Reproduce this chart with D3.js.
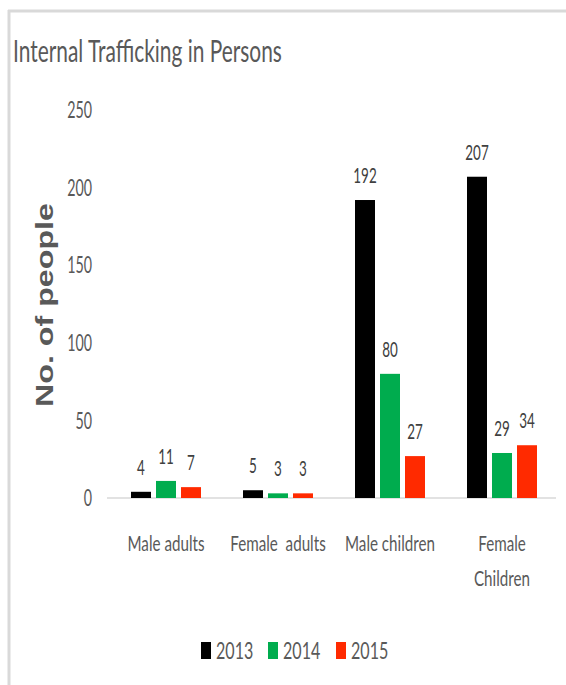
<!DOCTYPE html>
<html>
  <head>
    <script type="text/javascript" src="https://d3js.org/d3.v7.min.js"></script>
    <style>
      body { margin: 0; background: #fff; }
      text { font-family: Lato, "Open Sans", sans-serif; }
    </style>
  </head>
  <body>
  </body>
  <script>

  var categories = ["Male adults", "Female  adults", "Male children", "Female Children"];
  var years = ["2013", "2014", "2015"];
  var values2013 = [4, 5, 192, 207];
  var values2014 = [11, 3, 80, 29];
  var values2015 = [7, 3, 27, 34];
  var yTicks = [0, 50, 100, 150, 200, 250];
  var colors = ["#000000", "#00ac4e", "#ff2a00"];

  var seriesValues = [values2013, values2014, values2015];

  var width = 566, height = 685;
  var textColor = "#595959";

  // the source picture is squashed sideways, so squeeze glyphs horizontally
  // (scale around the anchor x so the box stays where the text is)
  function squeeze(sel, f) {
    sel.attr("transform", function() {
      var x = +d3.select(this).attr("x") || 0;
      return "translate(" + x + ",0) scale(" + f + ",1) translate(" + (-x) + ",0)";
    });
  }

  var svg = d3.select("body").append("svg")
              .attr("width", width)
              .attr("height", height);

  // frame (only top and left edges show)
  svg.append("line").attr("x1", 8).attr("x2", width).attr("y1", 11).attr("y2", 11)
     .attr("stroke", "#d9d9d9").attr("stroke-width", 3);
  svg.append("line").attr("x1", 9).attr("x2", 9).attr("y1", 10).attr("y2", height)
     .attr("stroke", "#d9d9d9").attr("stroke-width", 3);

  var title = svg.append("text")
     .attr("x", 13).attr("y", 62)
     .style("font-size", "31px")
     .style("fill", textColor)
     .text("Internal Trafficking in Persons");
  squeeze(title, 269 / title.node().getComputedTextLength());

  var x0 = d3.scaleBand().domain(categories).range([110, 558]);
  var x1 = d3.scaleBand().domain(years).range([0, 70]).paddingInner(0.2);
  var y = d3.scaleLinear().domain([0, 250]).range([498, 110]);

  // baseline
  svg.append("line")
     .attr("x1", 107).attr("x2", 556)
     .attr("y1", y(0)).attr("y2", y(0))
     .attr("stroke", "#d9d9d9").attr("stroke-width", 1.5);

  // y tick labels
  var yt = svg.selectAll(".ytick").data(yTicks).enter().append("text")
     .attr("class", "ytick")
     .attr("x", 92)
     .attr("y", function(d) { return y(d); })
     .attr("dy", "0.36em")
     .attr("text-anchor", "end")
     .style("font-size", "23px")
     .style("fill", textColor)
     .text(function(d) { return d; });
  squeeze(yt, 0.62);

  // y axis title
  svg.append("text")
     .attr("transform", "translate(53,305) rotate(-90)")
     .attr("text-anchor", "middle")
     .attr("textLength", 204).attr("lengthAdjust", "spacingAndGlyphs")
     .style("font-family", "'Liberation Sans', sans-serif")
     .style("font-weight", "bold")
     .style("font-size", "23px")
     .style("fill", textColor)
     .text("No. of people");

  var groups = svg.selectAll(".group").data(categories).enter().append("g")
     .attr("class", "group")
     .attr("transform", function(d) { return "translate(" + (x0(d) + x0.bandwidth() / 2 - 35) + ",0)"; });

  var cells = groups.selectAll("g.cell")
     .data(function(d, i) { return years.map(function(yr, j) { return {year: yr, value: seriesValues[j][i], color: colors[j]}; }); })
     .enter().append("g").attr("class", "cell");

  cells.append("rect")
     .attr("x", function(d) { return x1(d.year); })
     .attr("width", x1.bandwidth())
     .attr("y", function(d) { return y(d.value); })
     .attr("height", function(d) { return y(0) - y(d.value); })
     .style("fill", function(d) { return d.color; });

  var vl = cells.append("text")
     .attr("x", function(d) { return x1(d.year) + x1.bandwidth() / 2; })
     .attr("y", function(d) { return y(d.value) - 17; })
     .attr("text-anchor", "middle")
     .style("font-size", "21px")
     .style("fill", "#404040")
     .text(function(d) { return d.value; });
  squeeze(vl, 0.64);

  // category labels
  var catLines = [];
  categories.forEach(function(c) {
    if (c === "Female Children") {
      catLines.push({cat: c, text: "Female", line: 0});
      catLines.push({cat: c, text: "Children", line: 1});
    } else {
      catLines.push({cat: c, text: c, line: 0});
    }
  });
  var cl = svg.selectAll(".cat").data(catLines).enter().append("text")
     .attr("class", "cat")
     .attr("xml:space", "preserve")
     .attr("x", function(d) { return x0(d.cat) + x0.bandwidth() / 2; })
     .attr("y", function(d) { return 551 + d.line * 35; })
     .attr("text-anchor", "middle")
     .style("font-size", "22px")
     .style("fill", textColor)
     .text(function(d) { return d.text; });
  squeeze(cl, 0.69);

  // legend
  var legendX = [201, 268, 336];
  var legend = svg.selectAll(".legend").data(years).enter().append("g")
     .attr("class", "legend")
     .attr("transform", function(d, i) { return "translate(" + legendX[i] + ",642)"; });

  legend.append("rect")
     .attr("width", 10).attr("height", 17)
     .style("fill", function(d, i) { return colors[i]; });

  var lt = legend.append("text")
     .attr("x", 15).attr("y", 17)
     .style("font-size", "23px")
     .style("fill", textColor)
     .text(function(d) { return d; });
  squeeze(lt, 0.7);

  </script>
</html>
